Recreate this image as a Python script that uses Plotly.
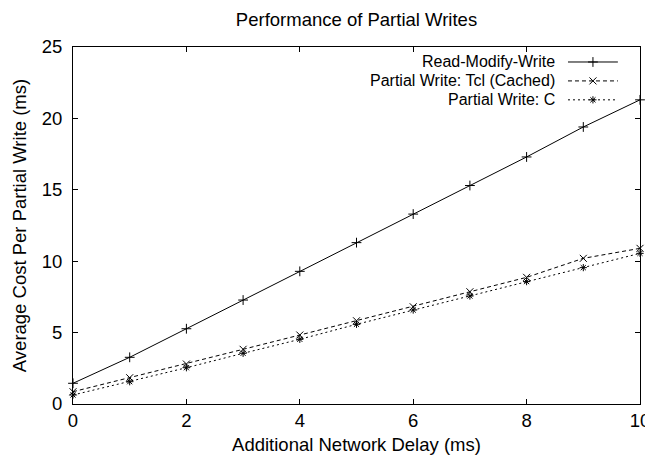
import plotly.graph_objects as go

delay_ms = [0, 1, 2, 3, 4, 5, 6, 7, 8, 9, 10]
read_modify_write = [1.45, 3.27, 5.27, 7.28, 9.29, 11.3, 13.3, 15.3, 17.3, 19.4, 21.3]
partial_tcl_cached = [0.86, 1.84, 2.8, 3.83, 4.83, 5.83, 6.81, 7.86, 8.87, 10.2, 10.9]
partial_c = [0.63, 1.56, 2.54, 3.55, 4.53, 5.58, 6.58, 7.56, 8.57, 9.55, 10.55]

series_names = ["Read-Modify-Write", "Partial Write: Tcl (Cached)", "Partial Write: C"]
x_ticks = [0, 2, 4, 6, 8, 10]
y_ticks = [0, 5, 10, 15, 20, 25]

FONT = "Liberation Sans, Arial, sans-serif"
FS = 18.5
KEY_FS = 16
styles = [
    dict(dash="solid", symbol="cross-thin-open", size=7),
    dict(dash="4px,3px", symbol="x-thin-open", size=7),
    dict(dash="2px,3px", symbol="asterisk-open", size=6),
]
series_vals = [read_modify_write, partial_tcl_cached, partial_c]

fig = go.Figure()
for name, vals, st in zip(series_names, series_vals, styles):
    fig.add_trace(go.Scatter(
        x=delay_ms, y=vals, name=name, mode="lines+markers",
        line=dict(color="black", width=1, dash=st["dash"]),
        marker=dict(symbol=st["symbol"], size=st["size"], color="black",
                    line=dict(color="black", width=1)),
        showlegend=False, cliponaxis=False,
    ))

# gnuplot-style key: text right-aligned, sample on the right
key_rows = [0.958, 0.905, 0.852]
for name, st, ky in zip(series_names, styles, key_rows):
    fig.add_annotation(xref="paper", yref="paper", x=0.852, y=ky, text=name,
                       showarrow=False, xanchor="right", yanchor="middle",
                       borderpad=0,
                       font=dict(family=FONT, size=KEY_FS, color="black"))
    fig.add_shape(type="line", xref="paper", yref="paper", x0=0.873, x1=0.961,
                  y0=ky, y1=ky, line=dict(color="black", width=1, dash=st["dash"]))
    fig.add_trace(go.Scatter(
        x=[0.917], y=[ky], xaxis="x2", yaxis="y2", mode="markers",
        marker=dict(symbol=st["symbol"], size=st["size"], color="black",
                    line=dict(color="black", width=1)),
        showlegend=False, hoverinfo="skip",
    ))

axis_common = dict(
    showgrid=False, zeroline=False, showline=True, linecolor="black", linewidth=1,
    mirror="ticks", ticks="inside", ticklen=5, tickcolor="black", tickwidth=1,
    tickfont=dict(family=FONT, size=FS, color="black"), automargin=False,
    ticklabeloverflow="allow",
)
# the page body adds an 8px offset, so margins are shifted to compensate
fig.update_layout(
    width=653, height=460,
    margin=dict(l=65, r=21, t=39, b=64),
    paper_bgcolor="white", plot_bgcolor="white",
    title=dict(text="Performance of Partial Writes", x=(65 + 632) / 2 / 653,
               xanchor="center", y=1 - 11.5 / 460, yanchor="middle",
               font=dict(family=FONT, size=FS, color="black")),
    xaxis=dict(range=[0, 10], tickvals=x_ticks, ticklabelstandoff=0,
               title=dict(text="Additional Network Delay (ms)", standoff=7,
                          font=dict(family=FONT, size=FS, color="black")),
               **axis_common),
    yaxis=dict(range=[0, 25], tickvals=y_ticks, ticklabelstandoff=6,
               title=dict(text="Average Cost Per Partial Write (ms)", standoff=10,
                          font=dict(family=FONT, size=FS, color="black")),
               **axis_common),
    xaxis2=dict(overlaying="x", range=[0, 1], visible=False),
    yaxis2=dict(overlaying="y", range=[0, 1], visible=False),
)

fig.write_html("out.html")
